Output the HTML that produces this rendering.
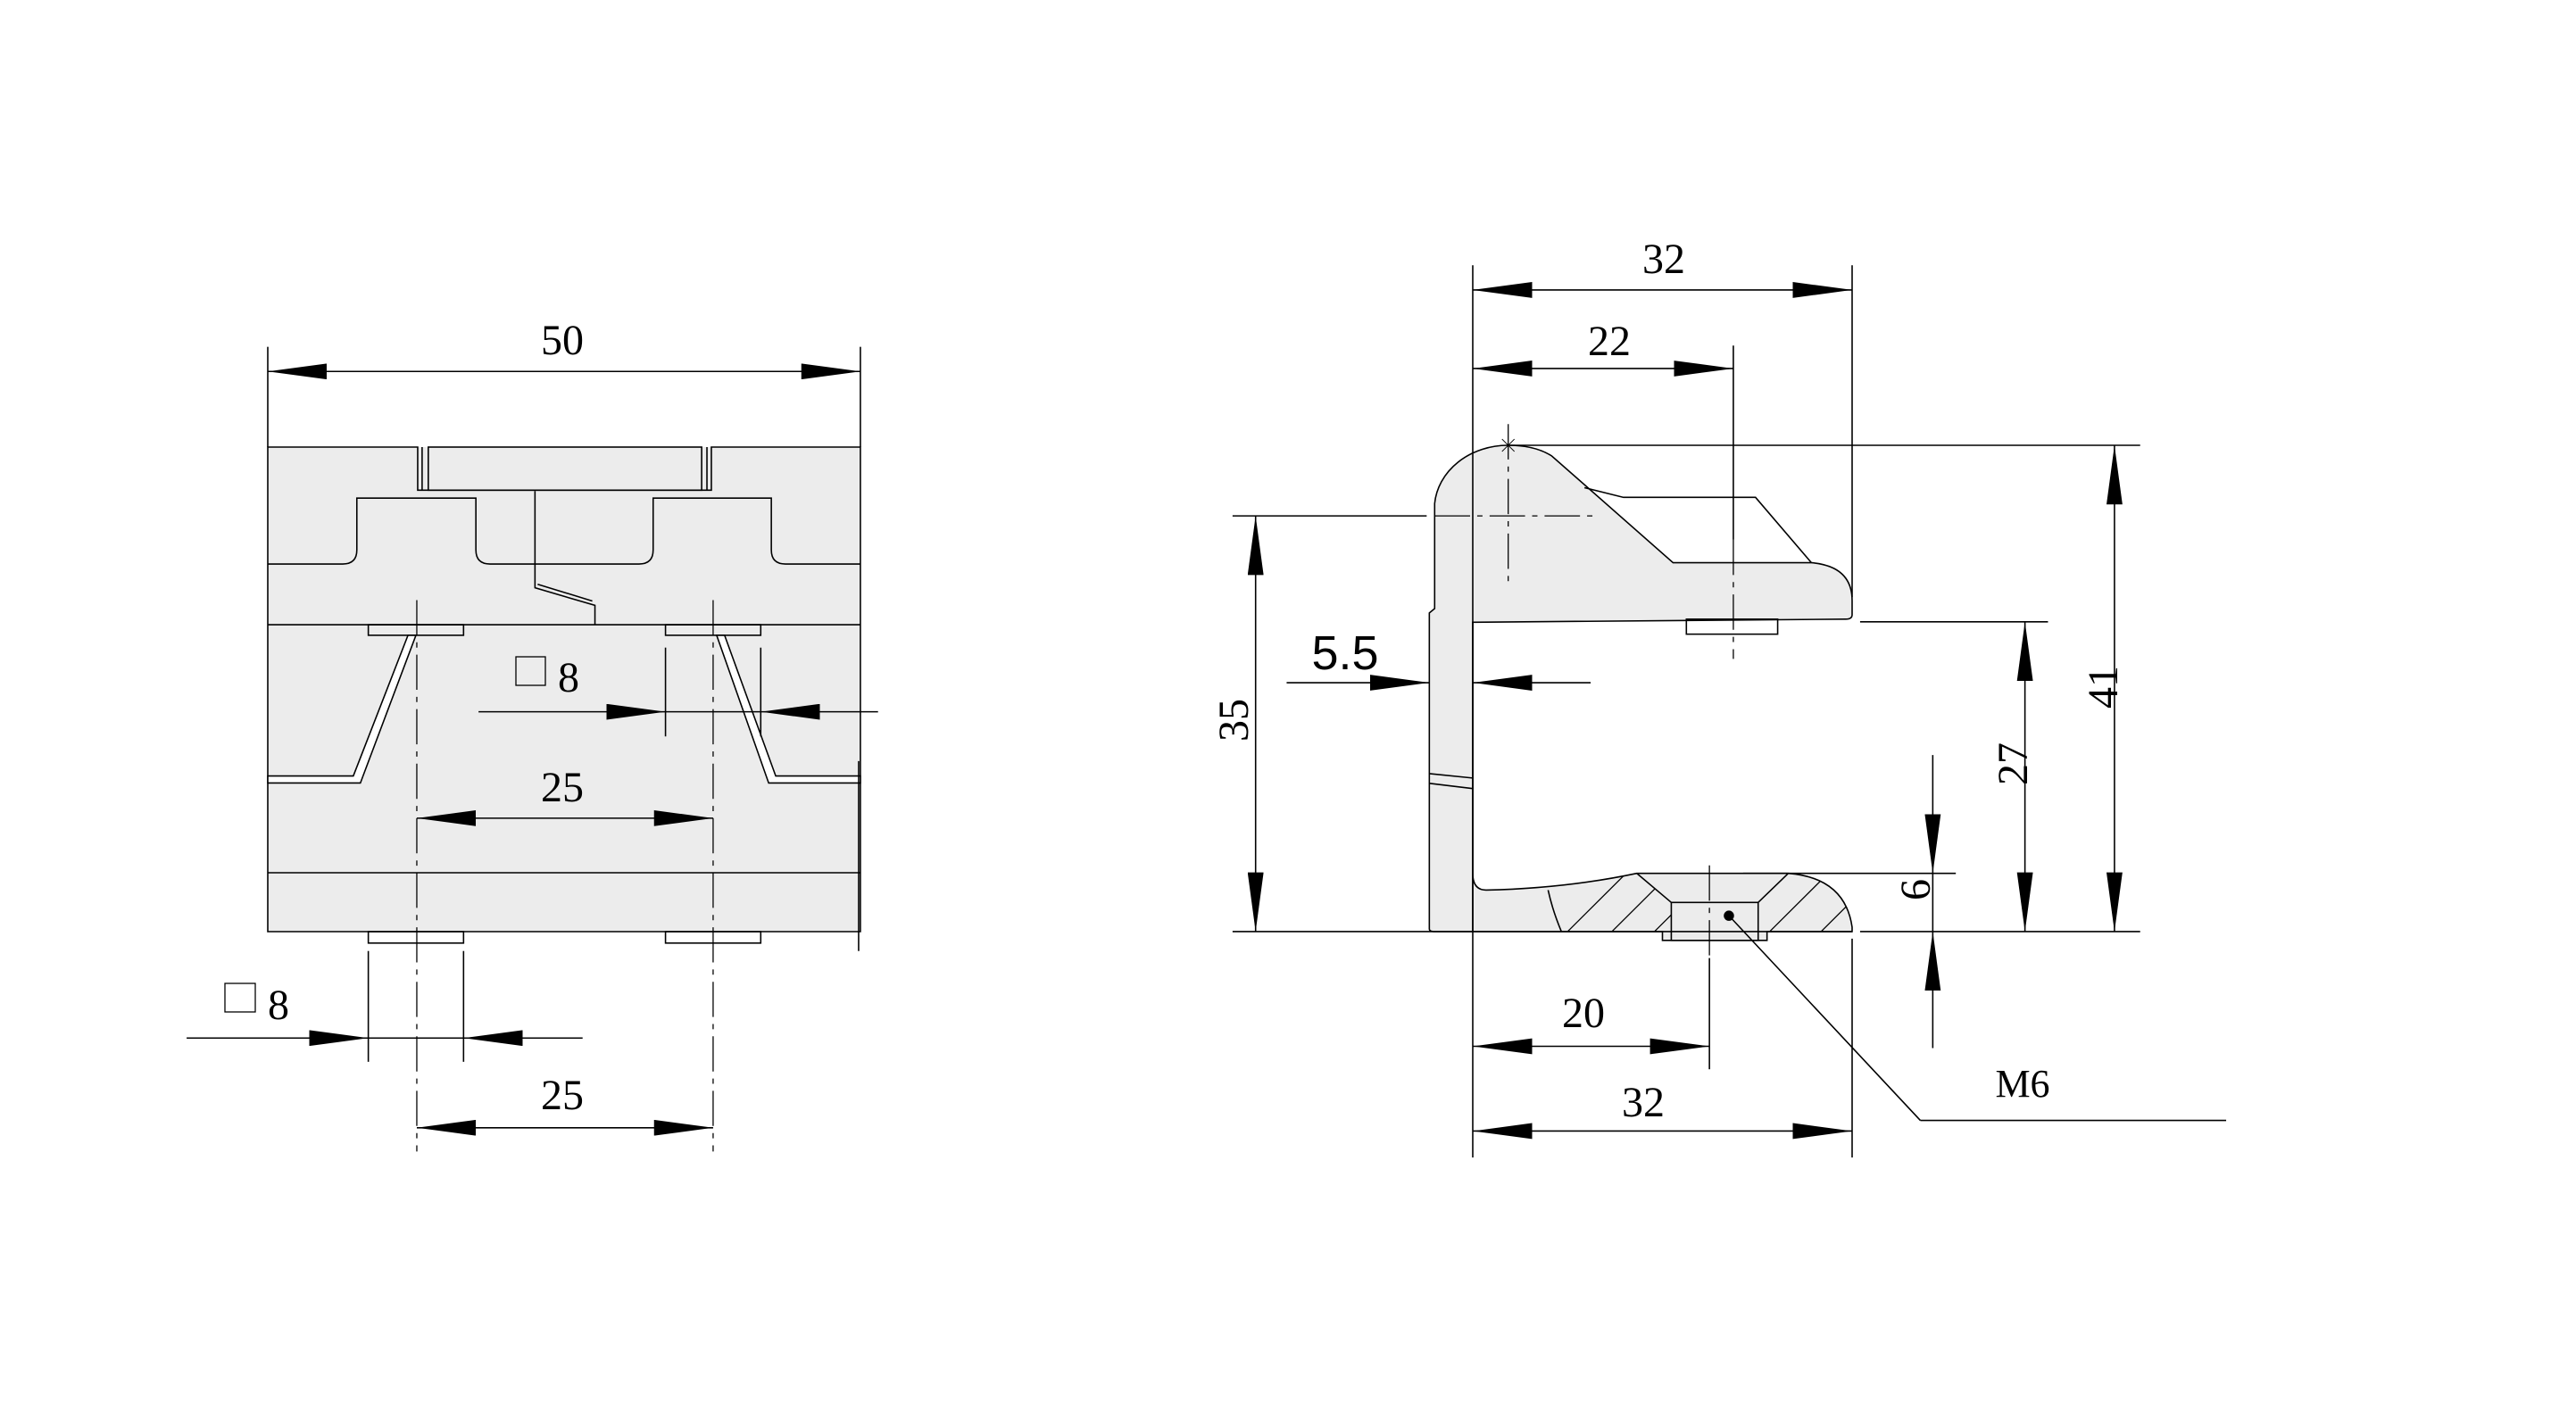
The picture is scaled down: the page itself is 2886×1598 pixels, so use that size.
<!DOCTYPE html>
<html><head><meta charset="utf-8"><style>
html,body{margin:0;padding:0;background:#fff;}
svg{display:block;}
text{font-family:"Liberation Serif",serif;fill:#000;}
</style></head><body>
<svg width="2886" height="1598" viewBox="0 0 2886 1598" xmlns="http://www.w3.org/2000/svg">
<defs>
<marker id="a" viewBox="0 0 67 18" refX="67" refY="9" markerWidth="67" markerHeight="18" markerUnits="userSpaceOnUse" orient="auto-start-reverse"><path d="M0,0 L67,9 L0,18 z" fill="#000"/></marker>
<clipPath id="flange"><path d="M1740,1003 Q1790,996 1840,984 L1879,1017 H1977 L2011,984 Q2075,989 2083,1045 V1050 H1987 V1060 H1869 V1050 H1755 Q1745,1026 1740,1003 Z"/></clipPath>
</defs>
<g fill="none" stroke="#000" stroke-width="1.6" transform="matrix(0.988 0 0 0.9855 2.61 9.24)">
<!-- LEFT VIEW -->
<rect x="301" y="499" width="672" height="551" fill="#ececec" stroke="none"/>
<path d="M301,499 H471 V548 H804 V499 H973 V1050 H301 Z"/>
<rect x="483" y="499" width="310" height="49"/>
<line x1="476" y1="499" x2="476" y2="548"/><line x1="799" y1="499" x2="799" y2="548"/>
<path d="M301,632 H386 Q402,632 402,616 V557 H537 V616 Q537,632 553,632 H722 Q738,632 738,616 V557 H872 V616 Q872,632 888,632 H973"/>
<path d="M604,549 V659 L672,679 V701"/><path d="M607,655 L669,674"/>
<line x1="301" y1="701" x2="973" y2="701"/>
<rect x="415" y="701" width="108" height="12"/><rect x="752" y="701" width="108" height="12"/>
<polygon points="301,873 398,873 460,713 469,713 406,881 301,881" fill="#fff"/>
<polygon points="973,873 877,873 819,713 810,713 869,881 973,881" fill="#fff"/>
<line x1="301" y1="983" x2="973" y2="983"/>
<rect x="415" y="1050" width="108" height="13"/><rect x="752" y="1050" width="108" height="13"/>
<line x1="971" y1="856" x2="971" y2="1072"/>
<g stroke-dasharray="40,8,6,8" stroke-width="1.3">
<line x1="470" y1="673" x2="470" y2="1300"/><line x1="806" y1="673" x2="806" y2="1300"/>
</g>
<line x1="301" y1="385" x2="301" y2="499"/><line x1="973" y1="385" x2="973" y2="499"/>
<line x1="301" y1="413" x2="973" y2="413" marker-start="url(#a)" marker-end="url(#a)"/>
<line x1="470" y1="921" x2="806" y2="921" marker-start="url(#a)" marker-end="url(#a)"/>
<line x1="470" y1="1273" x2="806" y2="1273" marker-start="url(#a)" marker-end="url(#a)"/>
<line x1="752" y1="727" x2="752" y2="828"/><line x1="860" y1="727" x2="860" y2="828"/>
<line x1="540" y1="800" x2="752" y2="800" marker-end="url(#a)"/>
<line x1="993" y1="800" x2="860" y2="800" marker-end="url(#a)"/>
<line x1="752" y1="800" x2="860" y2="800"/>
<line x1="415" y1="1072" x2="415" y2="1198"/><line x1="523" y1="1072" x2="523" y2="1198"/>
<line x1="209" y1="1171" x2="415" y2="1171" marker-end="url(#a)"/>
<line x1="658" y1="1171" x2="523" y2="1171" marker-end="url(#a)"/>
<line x1="415" y1="1171" x2="523" y2="1171"/>
</g>
<g fill="none" stroke="#000" stroke-width="1.6" transform="matrix(0.993 0 0 0.989 6.58 5.49)">
<!-- RIGHT VIEW -->
<path d="M1606,1047 V689 L1612,684 V565 A83,72 0 0 1 1695,499 Q1725,499 1744,511 L1881,632 H2037 Q2083,636 2083,675 V691 Q2083,696 2076,696 L1655,699.5 V984 Q1655,1003 1670,1003 Q1760,1001 1840,984 H2011 Q2075,989 2083,1045 V1050 H1987 V1060 H1869 V1050 H1612 Q1606,1050 1606,1047 Z" fill="#ececec"/>
<path d="M1781,547 L1825,558 H1974 L2037,632"/>
<line x1="1606" y1="871" x2="1655" y2="876"/><line x1="1606" y1="882" x2="1655" y2="888"/>
<line x1="1655" y1="699" x2="1655" y2="1050"/>
<path d="M1740,1003 Q1745,1026 1755,1050"/>
<path d="M1840,984 L1879,1017 M2011,984 L1977,1017"/>
<g clip-path="url(#flange)" stroke-width="1.3">
<line x1="1762" y1="1050" x2="1842" y2="970"/><line x1="1812" y1="1050" x2="1892" y2="970"/>
<line x1="1860" y1="1050" x2="1940" y2="970"/><line x1="1990" y1="1050" x2="2070" y2="970"/>
<line x1="2048" y1="1050" x2="2128" y2="970"/>
</g>
<rect x="1879" y="1017" width="98" height="43" fill="#ececec"/>
<rect x="1896" y="696" width="103" height="17"/>
<g stroke-dasharray="40,8,6,8" stroke-width="1.3">
<line x1="1695" y1="475" x2="1695" y2="657"/><line x1="1612" y1="579" x2="1790" y2="579"/>
<line x1="1949" y1="606" x2="1949" y2="741"/><line x1="1922" y1="975" x2="1922" y2="1080"/>
</g>
<circle cx="1944" cy="1032" r="5" fill="#000"/>
<line x1="1944" y1="1032" x2="2160" y2="1264"/><line x1="2160" y1="1264" x2="2505" y2="1264"/>
<line x1="1655" y1="295" x2="1655" y2="1306"/><line x1="2083" y1="295" x2="2083" y2="671"/>
<line x1="2083" y1="1058" x2="2083" y2="1306"/>
<line x1="1655" y1="323" x2="2083" y2="323" marker-start="url(#a)" marker-end="url(#a)"/>
<line x1="1949" y1="386" x2="1949" y2="606"/>
<line x1="1655" y1="412" x2="1949" y2="412" marker-start="url(#a)" marker-end="url(#a)"/>
<line x1="1695" y1="499" x2="2408" y2="499"/>
<path d="M1688,492 L1702,506 M1702,492 L1688,506" stroke-width="1"/>
<line x1="2379" y1="499" x2="2379" y2="1050" marker-start="url(#a)" marker-end="url(#a)"/>
<line x1="1384" y1="579" x2="1603" y2="579"/>
<line x1="1410" y1="579" x2="1410" y2="1050" marker-start="url(#a)" marker-end="url(#a)"/>
<line x1="1384" y1="1050" x2="2083" y2="1050"/><line x1="2092" y1="1050" x2="2408" y2="1050"/>
<line x1="2092" y1="699" x2="2304" y2="699"/>
<line x1="2278" y1="699" x2="2278" y2="1050" marker-start="url(#a)" marker-end="url(#a)"/>
<line x1="1960" y1="984" x2="2200" y2="984"/>
<line x1="2174" y1="850" x2="2174" y2="984" marker-end="url(#a)"/>
<line x1="2174" y1="1182" x2="2174" y2="1050" marker-end="url(#a)"/>
<line x1="2174" y1="984" x2="2174" y2="1050"/>
<line x1="1445" y1="768" x2="1606" y2="768" marker-end="url(#a)"/>
<line x1="1788" y1="768" x2="1655" y2="768" marker-end="url(#a)"/>
<line x1="1922" y1="1080" x2="1922" y2="1206"/>
<line x1="1655" y1="1180" x2="1922" y2="1180" marker-start="url(#a)" marker-end="url(#a)"/>
<line x1="1655" y1="1276" x2="2083" y2="1276" marker-start="url(#a)" marker-end="url(#a)"/>
</g>
<rect x="578" y="736" width="33" height="32" fill="none" stroke="#000" stroke-width="1.3"/>
<rect x="252" y="1102" width="34" height="32" fill="none" stroke="#000" stroke-width="1.3"/>
<g font-size="48" text-anchor="middle">
<text x="630" y="397">50</text>
<text x="630" y="898">25</text>
<text x="630" y="1243">25</text>
<text x="625" y="775" text-anchor="start">8</text>
<text x="300" y="1142" text-anchor="start">8</text>
<text x="1864" y="306">32</text>
<text x="1803" y="398">22</text>
<text x="1774" y="1151">20</text>
<text x="1841" y="1251">32</text>
<text x="2266" y="1229" font-size="44">M6</text>
<text transform="translate(1398,807) rotate(-90)">35</text>
<text transform="translate(2372,770) rotate(-90)">41</text>
<text transform="translate(2271,856) rotate(-90)">27</text>
<text transform="translate(2162,997) rotate(-90)">6</text>
</g>
<text x="1507" y="750" font-size="54" text-anchor="middle" style="font-family:'Liberation Sans',sans-serif">5.5</text>
</svg>
</body></html>
